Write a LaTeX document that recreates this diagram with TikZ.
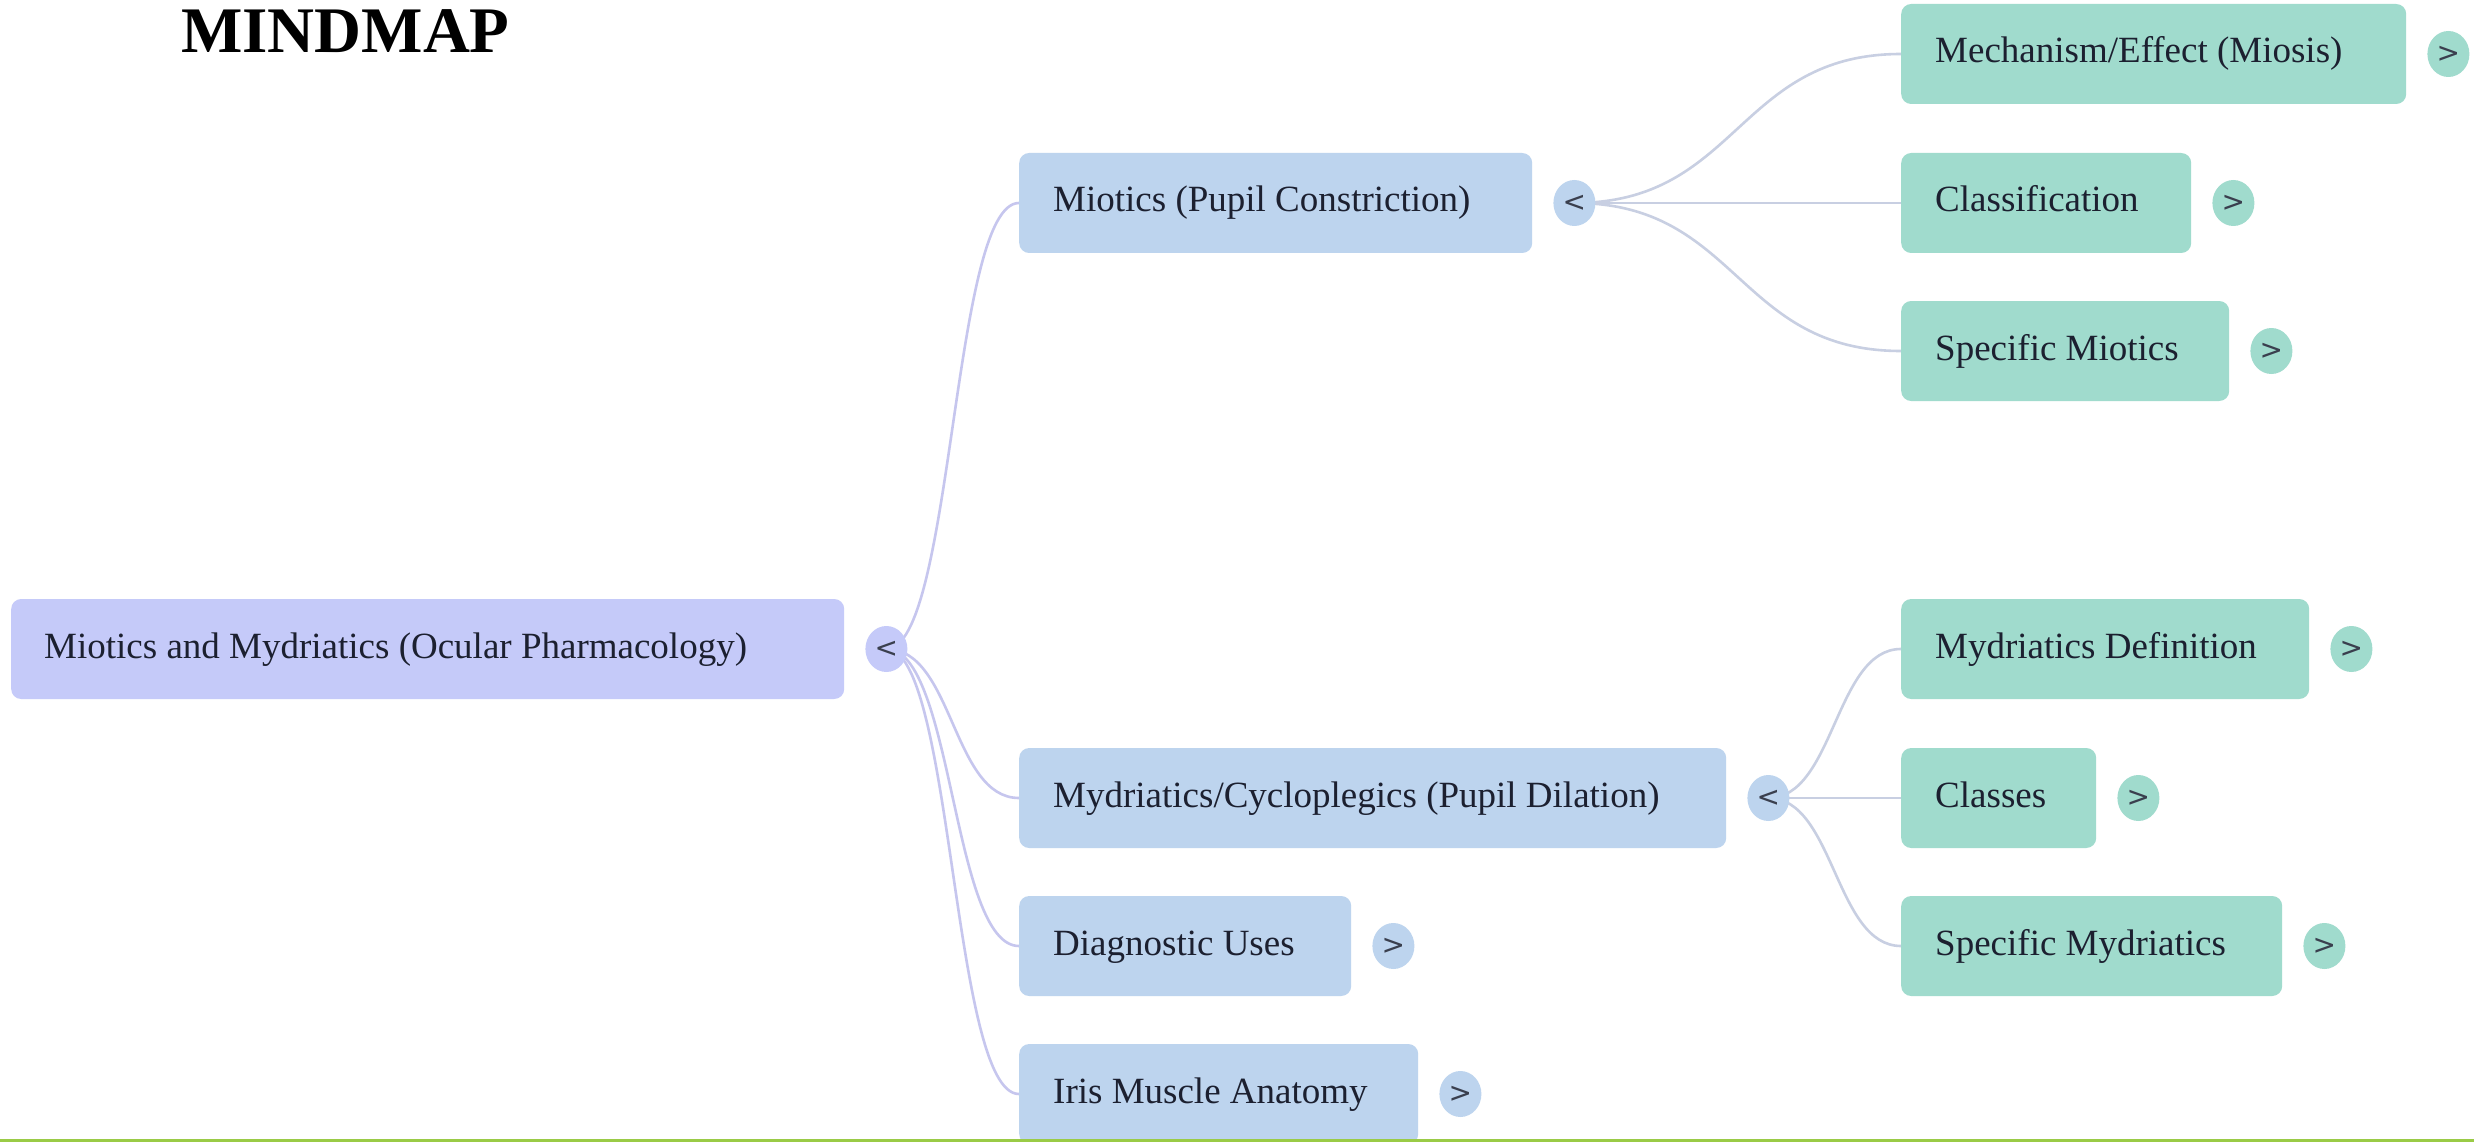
\documentclass[tikz,border=0pt]{standalone}
\usepackage{fontspec}
\setmainfont{Liberation Serif}
\newfontfamily\chevfont{DejaVu Sans}
\usetikzlibrary{backgrounds,shapes.geometric}
\definecolor{rootfill}{HTML}{C5CAF9}
\definecolor{lonefill}{HTML}{BDD4EE}
\definecolor{ltwofill}{HTML}{A0DBCD}
\definecolor{rootlink}{HTML}{C6C6EE}
\definecolor{sublink}{HTML}{C8CFE2}
\definecolor{txtcol}{HTML}{1C2030}
\definecolor{chevcol}{HTML}{3A3F4E}
\definecolor{greenline}{HTML}{9ACB46}
\begin{document}
\begin{tikzpicture}[x=1pt,y=-1pt,
  boxshape/.style={rectangle, rounded corners=10pt, draw=none, minimum height=100pt, inner sep=0pt, anchor=west},
  rootbox/.style={boxshape, fill=rootfill},
  lonebox/.style={boxshape, fill=lonefill},
  ltwobox/.style={boxshape, fill=ltwofill},
  label text/.style={anchor=base west, inner sep=0pt, text=txtcol, font=\fontsize{37}{44}\selectfont},
  togglecirc/.style={ellipse, minimum width=42pt, minimum height=46pt, inner sep=0pt, text=chevcol, font=\chevfont\fontsize{28}{32}\selectfont},
  rootedge/.style={draw=rootlink, line width=2.6pt},
  subedge/.style={draw=sublink, line width=2.6pt}
]
\useasboundingbox (0,0) rectangle (2474,1142);

% title
\node[anchor=base west, inner sep=0pt, font=\fontsize{65}{70}\selectfont\bfseries] (title) at (181,53) {MINDMAP};

% root
\node[rootbox, minimum width=833pt] (root) at (11,649) {};
\node[label text] (root-t) at ([xshift=33pt,yshift=-9pt]root.west) {Miotics and Mydriatics (Ocular Pharmacology)};
\node[togglecirc, fill=rootfill] (root-c) at ([xshift=42pt]root.east) {<};

% level 1
\node[lonebox, minimum width=513pt] (mio) at (1019,203) {};
\node[label text] (mio-t) at ([xshift=34pt,yshift=-9pt]mio.west) {Miotics (Pupil Constriction)};
\node[togglecirc, fill=lonefill] (mio-c) at ([xshift=42pt]mio.east) {<};

\node[lonebox, minimum width=707pt] (myd) at (1019,798) {};
\node[label text] (myd-t) at ([xshift=34pt,yshift=-9pt]myd.west) {Mydriatics/Cycloplegics (Pupil Dilation)};
\node[togglecirc, fill=lonefill] (myd-c) at ([xshift=42pt]myd.east) {<};

\node[lonebox, minimum width=332pt] (diag) at (1019,946) {};
\node[label text] (diag-t) at ([xshift=34pt,yshift=-9pt]diag.west) {Diagnostic Uses};
\node[togglecirc, fill=lonefill] (diag-c) at ([xshift=42pt]diag.east) {>};

\node[lonebox, minimum width=399pt] (iris) at (1019,1094) {};
\node[label text] (iris-t) at ([xshift=34pt,yshift=-9pt]iris.west) {Iris Muscle Anatomy};
\node[togglecirc, fill=lonefill] (iris-c) at ([xshift=42pt]iris.east) {>};

% level 2 (miotics)
\node[ltwobox, minimum width=505pt] (mech) at (1901,54) {};
\node[label text] (mech-t) at ([xshift=34pt,yshift=-9pt]mech.west) {Mechanism/Effect (Miosis)};
\node[togglecirc, fill=ltwofill] (mech-c) at ([xshift=42pt]mech.east) {>};

\node[ltwobox, minimum width=290pt] (clsf) at (1901,203) {};
\node[label text] (clsf-t) at ([xshift=34pt,yshift=-9pt]clsf.west) {Classification};
\node[togglecirc, fill=ltwofill] (clsf-c) at ([xshift=42pt]clsf.east) {>};

\node[ltwobox, minimum width=328pt] (smio) at (1901,351) {};
\node[label text] (smio-t) at ([xshift=34pt,yshift=-9pt]smio.west) {Specific Miotics};
\node[togglecirc, fill=ltwofill] (smio-c) at ([xshift=42pt]smio.east) {>};

% level 2 (mydriatics)
\node[ltwobox, minimum width=408pt] (mdef) at (1901,649) {};
\node[label text] (mdef-t) at ([xshift=34pt,yshift=-9pt]mdef.west) {Mydriatics Definition};
\node[togglecirc, fill=ltwofill] (mdef-c) at ([xshift=42pt]mdef.east) {>};

\node[ltwobox, minimum width=195pt] (clss) at (1901,798) {};
\node[label text] (clss-t) at ([xshift=34pt,yshift=-9pt]clss.west) {Classes};
\node[togglecirc, fill=ltwofill] (clss-c) at ([xshift=42pt]clss.east) {>};

\node[ltwobox, minimum width=381pt] (smyd) at (1901,946) {};
\node[label text] (smyd-t) at ([xshift=34pt,yshift=-9pt]smyd.west) {Specific Mydriatics};
\node[togglecirc, fill=ltwofill] (smyd-c) at ([xshift=42pt]smyd.east) {>};

% connectors
\begin{scope}[on background layer]
  \fill[white] (0,0) rectangle (2474,1142);
  \foreach \t in {mio,myd,diag,iris}
    \draw[rootedge] (root-c.center) .. controls +(67,0) and +(-67,0) .. (\t.west);
  \foreach \t in {mech,clsf,smio}
    \draw[subedge] (mio-c.center) .. controls +(164,0) and +(-164,0) .. (\t.west);
  \foreach \t in {mdef,clss,smyd}
    \draw[subedge] (myd-c.center) .. controls +(66,0) and +(-66,0) .. (\t.west);
\end{scope}

% bottom rule
\fill[greenline] (0,1139) rectangle (2474,1142);
\end{tikzpicture}
\end{document}
